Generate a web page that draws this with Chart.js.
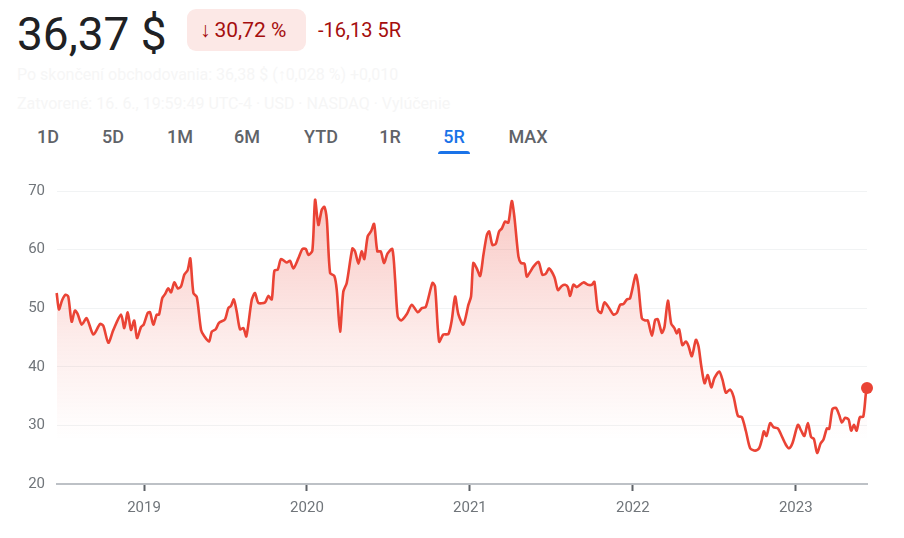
<!DOCTYPE html>
<html>
<head>
<meta charset="utf-8">
<script src="https://cdn.jsdelivr.net/npm/chart.js@4/dist/chart.umd.min.js"></script>
<style>
  html, body { margin: 0; padding: 0; background: #fff; }
  body { width: 904px; height: 538px; position: relative; overflow: hidden; font-family: Roboto, "Noto Sans", sans-serif; }
  .abs { position: absolute; white-space: nowrap; }
  #price { left: 17px; top: 11px; font-size: 46px; line-height: 46px; color: #202124; }
  #badge { left: 187px; top: 9px; width: 119px; height: 42px; border-radius: 9px; background: #fce8e6;
           color: #a50e0e; font-size: 21px; display: flex; align-items: center; padding-left: 13px; box-sizing: border-box; }
  #badge .arr { margin-right: 4px; }
  #chg { left: 318px; top: 9px; height: 42px; line-height: 42px; font-size: 20px; color: #a50e0e; }
  .faint { left: 17px; font-size: 16px; color: #f6f6f6; }
  .tab { top: 126px; font-size: 18px; line-height: 22px; font-weight: 500; color: #5f6368; transform: translateX(-50%); }
  .tab.active { color: #1a73e8; }
  #uline { left: 438px; top: 151px; width: 32px; height: 3px; background: #1a73e8; border-radius: 3px 3px 0 0; }
  #wrap { position: absolute; left: 0; top: 170px; width: 904px; height: 368px; }
</style>
</head>
<body>
<div class="abs" id="price">36,37 $</div>
<div class="abs" id="badge"><span class="arr">↓</span><span>30,72 %</span></div>
<div class="abs" id="chg">-16,13 5R</div>
<div class="abs faint" style="top:65px">Po skončení obchodovania: 36,38 $ (↑0,028 %) +0,010</div>
<div class="abs faint" style="top:94px">Zatvorené: 16. 6., 19:59:49 UTC-4 · USD · NASDAQ · Vylúčenie</div>
<div id="tabs"></div>
<div class="abs" id="uline"></div>
<div id="wrap"><canvas id="c" width="904" height="368"></canvas></div>
<script>
// ---- data ----
const rangeTabs = ['1D','5D','1M','6M','YTD','1R','5R','MAX'];
const activeTab = '5R';
const yearTicks = [2019, 2020, 2021, 2022, 2023];
const yearLabels = ['2019', '2020', '2021', '2022', '2023'];
const yTicks = [20, 30, 40, 50, 60, 70];
const axisStart = 2018.466;
const axisEnd = 2023.437;
// time as decimal year
const times = [
 2018.464,2018.478,2018.498,2018.519,2018.535,2018.556,2018.576,2018.593,2018.618,2018.648,
 2018.689,2018.730,2018.750,2018.781,2018.812,2018.859,2018.879,2018.900,2018.920,2018.940,
 2018.957,2018.982,2018.998,2019.023,2019.037,2019.057,2019.078,2019.092,2019.112,2019.129,
 2019.149,2019.166,2019.186,2019.207,2019.227,2019.247,2019.268,2019.284,2019.303,2019.324,
 2019.350,2019.370,2019.399,2019.416,2019.440,2019.460,2019.497,2019.517,2019.534,2019.551,
 2019.569,2019.589,2019.610,2019.628,2019.661,2019.681,2019.702,2019.743,2019.763,2019.784,
 2019.800,2019.821,2019.841,2019.876,2019.896,2019.917,2019.947,2019.972,2019.993,2020.009,
 2020.033,2020.050,2020.070,2020.091,2020.107,2020.122,2020.142,2020.168,2020.183,2020.203,
 2020.223,2020.244,2020.279,2020.295,2020.316,2020.336,2020.352,2020.373,2020.393,2020.412,
 2020.432,2020.453,2020.473,2020.494,2020.524,2020.541,2020.557,2020.578,2020.613,2020.643,
 2020.680,2020.705,2020.729,2020.770,2020.786,2020.811,2020.837,2020.868,2020.889,2020.909,
 2020.929,2020.960,2020.991,2021.007,2021.021,2021.042,2021.063,2021.083,2021.104,2021.118,
 2021.138,2021.159,2021.179,2021.196,2021.216,2021.236,2021.257,2021.273,2021.298,2021.314,
 2021.335,2021.349,2021.370,2021.390,2021.421,2021.445,2021.466,2021.486,2021.519,2021.540,
 2021.564,2021.584,2021.601,2021.615,2021.635,2021.656,2021.697,2021.724,2021.748,2021.764,
 2021.785,2021.805,2021.826,2021.855,2021.881,2021.902,2021.922,2021.942,2021.963,2021.983,
 2022.018,2022.034,2022.055,2022.076,2022.092,2022.117,2022.137,2022.153,2022.178,2022.194,
 2022.215,2022.235,2022.255,2022.270,2022.284,2022.304,2022.325,2022.341,2022.362,2022.387,
 2022.403,2022.419,2022.440,2022.460,2022.481,2022.501,2022.530,2022.550,2022.571,2022.597,
 2022.618,2022.645,2022.669,2022.694,2022.720,2022.751,2022.775,2022.792,2022.804,2022.820,
 2022.843,2022.863,2022.890,2022.910,2022.939,2022.959,2022.980,2023.013,2023.033,2023.053,
 2023.074,2023.094,2023.111,2023.131,2023.152,2023.170,2023.191,2023.205,2023.225,2023.246,
 2023.266,2023.283,2023.303,2023.324,2023.340,2023.357,2023.373,2023.393,2023.414,2023.430,
 2023.437
];
const prices = [
 52.6,49.8,51.4,52.3,52.0,47.7,49.6,49.0,47.2,48.3,
 45.5,47.3,47.0,44.1,46.3,48.9,46.6,49.3,46.3,47.9,
 44.9,46.8,47.2,49.2,49.3,47.2,48.9,48.9,51.7,52.4,
 53.4,52.7,54.4,53.4,53.7,55.7,56.5,58.5,52.6,51.9,
 46.3,45.2,44.3,46.0,46.4,47.5,48.1,50.0,50.4,51.5,
 49.4,46.4,46.6,45.2,51.4,52.6,50.9,51.0,52.1,51.5,
 56.4,56.6,58.4,57.8,58.1,56.8,58.5,60.1,60.1,59.1,
 59.8,68.5,64.2,66.8,67.3,65.1,56.0,55.5,53.1,46.0,
 52.8,54.3,60.2,59.7,57.6,59.7,58.4,62.3,63.1,64.4,
 59.7,59.7,57.7,59.3,60.1,54.9,48.6,47.9,49.0,50.6,
 49.3,50.0,50.2,54.3,53.7,44.3,45.5,45.6,48.0,52.0,
 49.0,47.2,50.6,52.0,57.7,56.8,55.5,59.1,62.5,63.1,
 60.8,61.0,63.1,63.6,64.8,64.6,68.3,65.6,58.8,57.7,
 57.6,55.4,56.2,57.1,57.9,55.7,55.9,56.8,55.3,53.1,
 53.8,54.0,53.6,52.1,54.0,53.6,54.4,54.0,54.0,54.5,
 49.7,49.2,51.0,50.0,48.9,49.2,50.6,50.7,51.5,51.7,
 55.7,53.7,48.3,47.9,47.9,45.3,48.0,48.1,45.8,46.8,
 51.3,47.4,46.6,45.7,46.4,43.7,44.3,43.6,41.8,44.6,
 43.5,40.3,37.2,38.6,36.5,38.1,39.2,37.8,35.6,36.1,
 34.9,31.6,31.4,29.0,26.1,25.7,26.1,27.6,29.0,28.2,
 30.4,29.7,29.5,28.4,26.7,26.1,27.0,30.1,29.1,28.2,
 30.4,28.0,27.7,25.3,26.9,27.6,29.5,29.4,32.8,33.0,
 31.8,30.5,31.3,31.0,29.1,30.1,29.1,31.4,31.5,35.4,
 36.37
];

// ---- tabs ----
const tabCenters = [48, 113, 180, 247, 321, 390, 454, 528];
const tabsEl = document.getElementById('tabs');
rangeTabs.forEach((t, i) => {
  const s = document.createElement('div');
  s.className = 'abs tab' + (t === activeTab ? ' active' : '');
  s.style.left = tabCenters[i] + 'px';
  s.textContent = t;
  tabsEl.appendChild(s);
});

// ---- chart ----
const RED = '#ea4335';
const points = times.map((t, i) => ({ x: t, y: prices[i] }));
const last = points.length - 1;

const ctx = document.getElementById('c').getContext('2d');
new Chart(ctx, {
  type: 'line',
  data: {
    datasets: [{
      data: points,
      clip: false,
      borderColor: RED,
      borderWidth: 2.6,
      tension: 0.25,
      fill: 'start',
      backgroundColor: (c) => {
        const area = c.chart.chartArea;
        if (!area) return 'rgba(234,67,53,0.15)';
        const g = c.chart.ctx.createLinearGradient(0, area.top, 0, area.bottom);
        g.addColorStop(0, 'rgba(234,67,53,0.30)');
        g.addColorStop(0.5, 'rgba(234,67,53,0.10)');
        g.addColorStop(0.85, 'rgba(234,67,53,0.0)');
        g.addColorStop(1, 'rgba(234,67,53,0.0)');
        return g;
      },
      pointRadius: (c) => c.dataIndex === last ? 6 : 0,
      pointBackgroundColor: RED,
      pointBorderWidth: 0,
      pointHoverRadius: 0
    }]
  },
  options: {
    responsive: false,
    animation: false,
    events: [],
    layout: { padding: { top: 21, right: 37, left: 0, bottom: 0 } },
    plugins: { legend: { display: false }, tooltip: { enabled: false } },
    scales: {
      x: {
        type: 'linear',
        min: axisStart,
        max: axisEnd,
        afterBuildTicks: (s) => { s.ticks = yearTicks.map(v => ({ value: v })); },
        afterFit: (s) => { s.height = 54; },
        ticks: {
          callback: (v) => yearLabels[yearTicks.indexOf(v)] ?? '',
          color: '#70757a',
          font: { family: 'Roboto', size: 15 },
          padding: 8,
          maxRotation: 0
        },
        grid: { drawOnChartArea: false, drawTicks: true, tickLength: 7, tickColor: '#5f6368', tickWidth: 2 },
        border: { display: true, color: '#bdc1c6', width: 2 }
      },
      y: {
        min: 20,
        max: 70,
        afterBuildTicks: (s) => { s.ticks = yTicks.map(v => ({ value: v })); },
        afterFit: (s) => { s.width = 57; },
        ticks: {
          color: '#70757a',
          font: { family: 'Roboto', size: 15 },
          padding: 12
        },
        grid: { color: '#f1f3f4', lineWidth: 1, drawTicks: false },
        border: { display: false }
      }
    }
  }
});
</script>
</body>
</html>
